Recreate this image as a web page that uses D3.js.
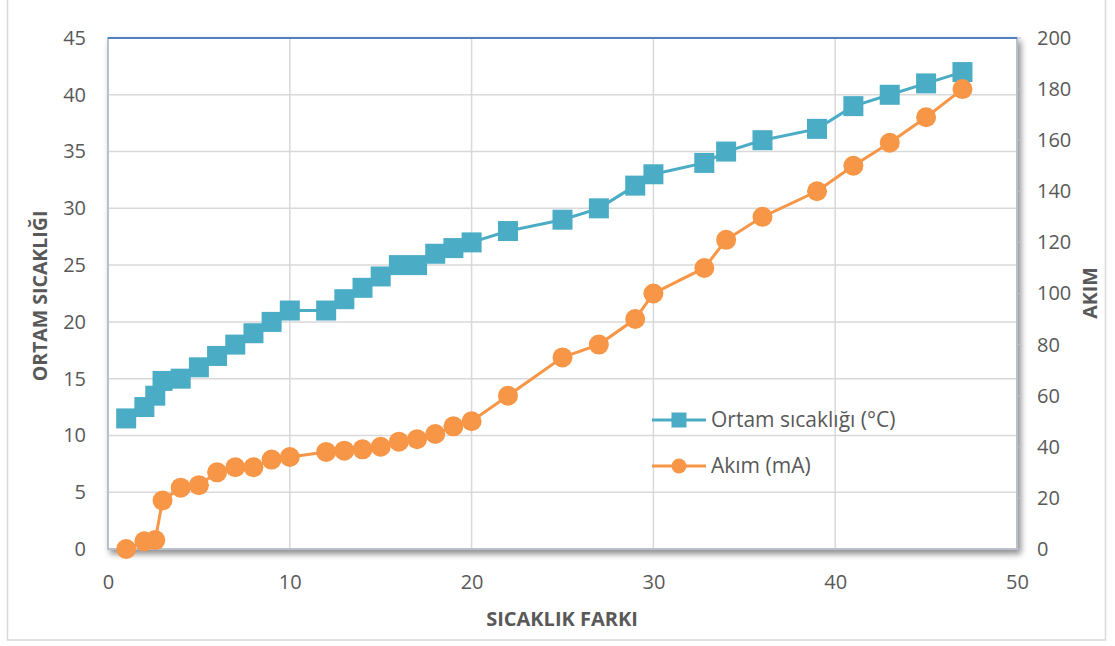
<!DOCTYPE html>
<html><head><meta charset="utf-8">
<script src="https://cdn.jsdelivr.net/npm/d3@7"></script>
<style>
html,body{margin:0;padding:0;background:#fff;}
text{font-family:"Open Sans",Lato,sans-serif;}
</style></head>
<body><svg id="c" width="1115" height="646"></svg>
<script>
const xValues = [1,2,2.6,3,4,5,6,7,8,9,10,12,13,14,15,16,17,18,19,20,22,25,27,29,30,32.8,34,36,39,41,43,45,47];
const ortamValues = [11.5,12.5,13.5,14.8,15,16,17,18,19,20,21,21,22,23,24,25,25,26,26.5,27,28,29,30,32,33,34,35,36,37,39,40,41,42];
const akimValues = [0,3,3.5,19,24,25,30,32,32,35,36,38,38.5,39,40,42,43,45,48,50,60,75,80,90,100,110,121,130,140,150,159,169,180];
const xTicks = [0,10,20,30,40,50];
const leftTicks = [0,5,10,15,20,25,30,35,40,45];
const rightTicks = [0,20,40,60,80,100,120,140,160,180,200];
const seriesNames = ["Ortam sıcaklığı (°C)","Akım (mA)"];
const colors = ["#4BACC6","#F79646"];

const svg = d3.select("#c");
const L=108, R=1017, T=38, B=549;
const x = d3.scaleLinear().domain([0,50]).range([L,R]);
const yL = d3.scaleLinear().domain([0,45]).range([B,T]);
const yR = d3.scaleLinear().domain([0,200]).range([B,T]);

const defs = svg.append("defs");
const f = defs.append("filter").attr("id","sh").attr("x","-5%").attr("y","-5%").attr("width","110%").attr("height","115%");
f.append("feDropShadow").attr("dx",3).attr("dy",4).attr("stdDeviation",3).attr("flood-color","#000").attr("flood-opacity",0.45);

// outer border
svg.append("rect").attr("x",7.5).attr("y",-2).attr("width",1098).attr("height",642)
  .attr("fill","#fff").attr("stroke","#d9d9d9").attr("stroke-width",1.5);

// plot frame
svg.append("rect").attr("x",L).attr("y",T).attr("width",R-L).attr("height",B-T)
  .attr("fill","#fff").attr("stroke","#b8c0cb").attr("stroke-width",2).attr("filter","url(#sh)");

// gridlines
svg.append("g").selectAll("line").data(leftTicks.filter(d=>d>0&&d<45)).join("line")
  .attr("x1",L+1).attr("x2",R-1).attr("y1",d=>yL(d)).attr("y2",d=>yL(d))
  .attr("stroke","#d9d9d9").attr("stroke-width",1.5);
svg.append("g").selectAll("line").data(xTicks.filter(d=>d>0&&d<50)).join("line")
  .attr("y1",T).attr("y2",B-1).attr("x1",d=>x(d)).attr("x2",d=>x(d))
  .attr("stroke","#d9d9d9").attr("stroke-width",1.5);

// top blue line
svg.append("line").attr("x1",L).attr("x2",R).attr("y1",T).attr("y2",T)
  .attr("stroke","#4f81bd").attr("stroke-width",2);

// axes labels via d3 axes
const axL = svg.append("g").attr("transform",`translate(${L-22},0)`)
  .call(d3.axisLeft(yL).tickValues(leftTicks).tickSize(0).tickPadding(0));
const axR = svg.append("g").attr("transform",`translate(${R+20},0)`)
  .call(d3.axisRight(yR).tickValues(rightTicks).tickSize(0).tickPadding(0));
const axB = svg.append("g").attr("transform",`translate(0,${B+26})`)
  .call(d3.axisBottom(x).tickValues(xTicks).tickSize(0).tickPadding(0));
[axL,axR,axB].forEach(a=>{a.select(".domain").remove();
  a.selectAll("text").attr("fill","#595959").attr("font-size","20px").attr("font-family",'"Open Sans",sans-serif');});
axB.selectAll("text").attr("dy","0.72em");

// right axis small ticks
svg.append("g").selectAll("line").data(rightTicks).join("line")
  .attr("x1",R).attr("x2",R+4).attr("y1",d=>yR(d)).attr("y2",d=>yR(d))
  .attr("stroke","#b8c0cb").attr("stroke-width",1);

// titles
svg.append("text").attr("transform","translate(47,296) rotate(-90)").attr("text-anchor","middle")
  .attr("font-weight","bold").attr("font-size","19.5px").attr("fill","#595959").text("ORTAM SICAKLIĞI");
svg.append("text").attr("transform","translate(1097,293) rotate(-90)").attr("text-anchor","middle")
  .attr("font-weight","bold").attr("font-size","19.5px").attr("fill","#595959").text("AKIM");
svg.append("text").attr("x",562).attr("y",626).attr("text-anchor","middle")
  .attr("font-weight","bold").attr("font-size","20px").attr("fill","#595959").text("SICAKLIK FARKI");

// series
const d1 = xValues.map((v,i)=>[v,ortamValues[i]]);
const d2 = xValues.map((v,i)=>[v,akimValues[i]]);
svg.append("path").datum(d1).attr("fill","none").attr("stroke",colors[0]).attr("stroke-width",3)
  .attr("d",d3.line().x(d=>x(d[0])).y(d=>yL(d[1])));
svg.append("g").selectAll("rect").data(d1).join("rect")
  .attr("x",d=>x(d[0])-10).attr("y",d=>yL(d[1])-10).attr("width",20).attr("height",20).attr("fill",colors[0]);
svg.append("path").datum(d2).attr("fill","none").attr("stroke",colors[1]).attr("stroke-width",3)
  .attr("d",d3.line().x(d=>x(d[0])).y(d=>yR(d[1])));
svg.append("g").selectAll("circle").data(d2).join("circle")
  .attr("cx",d=>x(d[0])).attr("cy",d=>yR(d[1])).attr("r",10).attr("fill",colors[1]);

// legend
const lg = svg.append("g");
[420,466].forEach((ly,i)=>{
  lg.append("line").attr("x1",652).attr("x2",706).attr("y1",ly).attr("y2",ly).attr("stroke",colors[i]).attr("stroke-width",3);
  if(i===0) lg.append("rect").attr("x",679-7.5).attr("y",ly-7.5).attr("width",15).attr("height",15).attr("fill",colors[i]);
  else lg.append("circle").attr("cx",679).attr("cy",ly).attr("r",7.5).attr("fill",colors[i]);
  lg.append("text").attr("x",711).attr("y",ly).attr("dy","0.35em").attr("font-size","21px").attr("fill","#595959").text(seriesNames[i]);
});
</script></body></html>
